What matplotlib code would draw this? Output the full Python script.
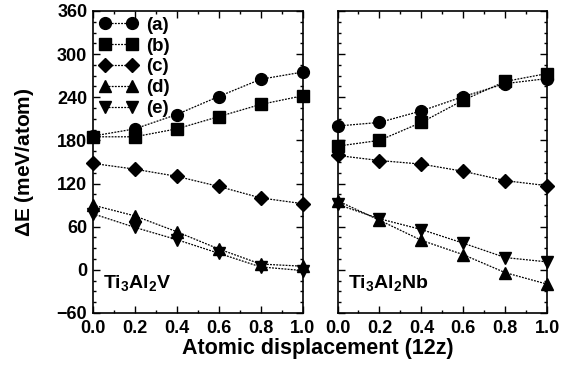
import matplotlib.pyplot as plt
from matplotlib.ticker import MultipleLocator

# displacement values (12z)
x = [0.0, 0.2, 0.4, 0.6, 0.8, 1.0]
labels = ["(a)", "(b)", "(c)", "(d)", "(e)"]
markers = ["o", "s", "D", "^", "v"]

# Delta E (meV/atom), Ti3Al2V
v_a = [186, 196, 216, 241, 265, 275]
v_b = [185, 185, 196, 213, 230, 242]
v_c = [148, 140, 130, 116, 100, 92]
v_d = [90, 75, 53, 29, 8, 5]
v_e = [78, 59, 42, 23, 4, -1]

# Delta E (meV/atom), Ti3Al2Nb
nb_a = [200, 205, 221, 241, 259, 266]
nb_b = [172, 180, 205, 236, 262, 273]
nb_c = [159, 152, 147, 137, 124, 117]
nb_d = [96, 69, 41, 21, -4, -20]
nb_e = [91, 71, 56, 37, 17, 11]

plt.rcParams["font.family"] = ["Liberation Sans", "DejaVu Sans"]
plt.rcParams["font.weight"] = "bold"
plt.rcParams["mathtext.fontset"] = "custom"
plt.rcParams["mathtext.rm"] = "Liberation Sans:bold"
plt.rcParams["mathtext.bf"] = "Liberation Sans:bold"
plt.rcParams["mathtext.default"] = "rm"

fig, axes = plt.subplots(1, 2, figsize=(5.73, 3.66), dpi=100, sharey=True)
fig.subplots_adjust(left=0.162, right=0.955, top=0.97, bottom=0.145, wspace=0.167)

panels = [
    (axes[0], [v_a, v_b, v_c, v_d, v_e], "Ti$_3$Al$_2$V"),
    (axes[1], [nb_a, nb_b, nb_c, nb_d, nb_e], "Ti$_3$Al$_2$Nb"),
]

for ax, series, name in panels:
    for ys, m, lab in zip(series, markers, labels):
        ax.plot(x, ys, color="black", linestyle=(0, (1.5, 1)), linewidth=0.9,
                marker=m, markersize=8.5 if m != "D" else 7.5,
                markerfacecolor="black", markeredgecolor="black", label=lab,
                clip_on=False, zorder=3)
    ax.set_xlim(0, 1)
    ax.set_ylim(-60, 360)
    ax.xaxis.set_major_locator(MultipleLocator(0.2))
    ax.xaxis.set_minor_locator(MultipleLocator(0.1))
    ax.yaxis.set_major_locator(MultipleLocator(60))
    ax.yaxis.set_minor_locator(MultipleLocator(15))
    ax.tick_params(which="both", direction="in", top=True, right=True,
                   labelsize=13, width=1.0)
    ax.tick_params(which="major", length=5)
    ax.tick_params(which="minor", length=2.5)
    ax.tick_params(axis="x", pad=5)
    ax.tick_params(axis="y", pad=4)
    ax.xaxis.set_major_formatter(plt.FormatStrFormatter("%.1f"))
    for sp in ax.spines.values():
        sp.set_linewidth(1.2)
    ax.text(0.048, 0.083, name, transform=ax.transAxes, fontsize=14,
            ha="left", va="baseline")

axes[0].set_ylabel(r"$\Delta$E (meV/atom)", fontsize=15, fontweight="bold")
axes[0].yaxis.set_label_coords(-0.27, 0.5)
axes[0].legend(loc="upper left", frameon=False, numpoints=2,
               prop={"size": 13.5, "weight": "bold"},
               handlelength=2.05, handletextpad=0.45, labelspacing=0.2,
               borderaxespad=0.0, borderpad=0.3,
               bbox_to_anchor=(0.005, 1.0))
axes[1].tick_params(axis="y", labelleft=False)

fig.text(0.555, 0.02, "Atomic displacement (12z)", ha="center", va="bottom",
         fontsize=15.5, fontweight="bold")

fig.savefig("out.png", dpi=100)
